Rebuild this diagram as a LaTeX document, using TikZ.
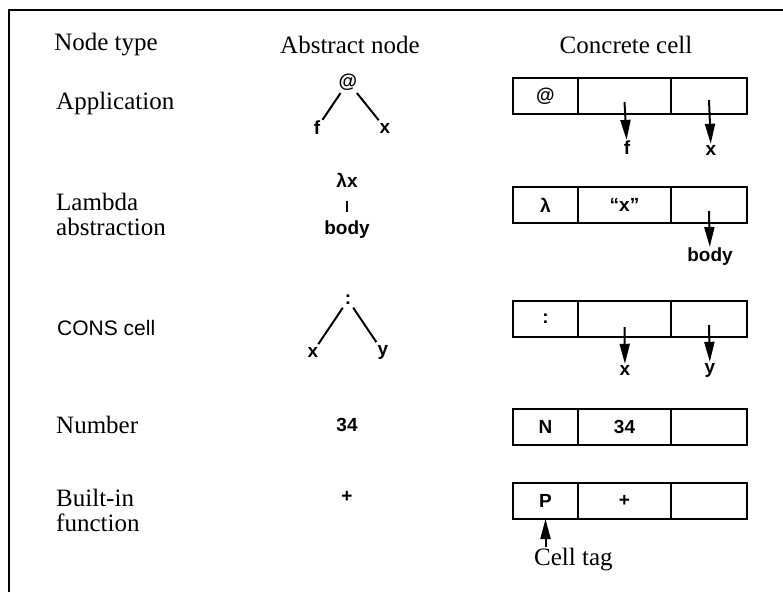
\documentclass[tikz,border=0pt]{standalone}
\usepackage{fontspec}
\setmainfont{Liberation Serif}
\newfontfamily\hsans{Liberation Sans}
\usetikzlibrary{arrows.meta}
\begin{document}
\begin{tikzpicture}[x=1pt,y=-1pt,
  lbl/.style={font=\fontsize{25}{25}\selectfont, inner sep=0pt},
  sym/.style={font=\hsans\bfseries\fontsize{19}{19}\selectfont, inner sep=1pt},
  tree/.style={line width=2pt, shorten <=2pt, shorten >=2pt},
  cellbox/.style={draw, line width=2.4pt, rectangle, outer sep=0pt, inner sep=0pt,
    minimum height=36pt, font=\hsans\bfseries\fontsize{19}{19}\selectfont, anchor=west},
  cA/.style={cellbox, minimum width=65pt},
  cB/.style={cellbox, minimum width=93pt},
  cC/.style={cellbox, minimum width=76pt},
  ptr/.style={line width=2pt, -{Triangle[length=20pt,width=10pt]}},
  frame/.style={line width=2.4pt},
]
\useasboundingbox (0,0) rectangle (783,592);
% frame
\draw[frame] (9,592) -- (9,10) -- (783,10);

% headings
\node[lbl] (h1) at (106,45) {Node type};
\node[lbl] (h2) at (350,45) {Abstract node};
\node[lbl] (h3) at (626,45) {Concrete cell};

% left labels
\node[lbl, anchor=west] (l1) at (56,103) {Application};
\node[lbl, anchor=west, align=left] (l2) at (56,214.5) {Lambda\\abstraction};
\node[anchor=west, inner sep=0pt, font=\hsans\fontsize{21}{21}\selectfont] (l3) at (57,328) {CONS cell};
\node[lbl, anchor=west] (l4) at (56,425) {Number};
\node[lbl, anchor=west, align=left] (l5) at (56,510) {Built-in\\function};

% abstract nodes
\node[sym] (tat) at (348,82) {@};
\node[sym] (tf) at (317,128) {f};
\node[sym] (tx) at (385,128) {x};
\draw[tree] (tat) -- (tf);
\draw[tree] (tat) -- (tx);

\node[sym] (tl) at (347,180) {λx};
\node[sym] (tb) at (347,230) {body};
\draw[line width=2pt, shorten <=13pt, shorten >=8pt] (tl) -- (tb);

\node[sym] (tc) at (348,300) {:};
\node[sym] (tcx) at (313,352) {x};
\node[sym] (tcy) at (383,352) {y};
\draw[tree] (tc) -- (tcx);
\draw[tree] (tc) -- (tcy);

\node[sym] (tn) at (347,425) {34};
\node[sym] (tp) at (347,497) {+};

% concrete cells
% row 1: application
\node[cA] (a1) at (513,96) {@};
\node[cB] (a2) at (a1.east) {};
\node[cC] (a3) at (a2.east) {};
\node[sym] (af) at (627,148) {f};
\node[sym] (ax) at (711,150) {x};
\draw[ptr] ([yshift=-6pt]a2.center) -- (af);
\draw[ptr] ([yshift=-4pt]a3.center) -- (ax);

% row 2: lambda
\node[cA] (b1) at (513,205) {λ};
\node[cB] (b2) at (b1.east) {“x”};
\node[cC] (b3) at (b2.east) {};
\node[sym] (bb) at (710,257) {body};
\draw[ptr] ([yshift=-6pt]b3.center) -- (bb);

% row 3: cons
\node[cA] (c1) at (513,319) {:};
\node[cB] (c2) at (c1.east) {};
\node[cC] (c3) at (c2.east) {};
\node[sym] (cx) at (625,370) {x};
\node[sym] (cy) at (710,370) {y};
\draw[ptr] ([yshift=-8pt]c2.center) -- (cx);
\draw[ptr] ([yshift=-6pt]c3.center) -- (cy);

% row 4: number
\node[cA] (d1) at (513,427) {N};
\node[cB] (d2) at (d1.east) {34};
\node[cC] (d3) at (d2.east) {};

% row 5: built-in
\node[cA] (e1) at (513,501) {P};
\node[cB] (e2) at (e1.east) {+};
\node[cC] (e3) at (e2.east) {};
\node[lbl, anchor=west] (tag) at (534,560) {Cell tag};
\coordinate (tagpt) at (e1.south |- 0,547);
\draw[ptr] (tagpt) -- (e1.south);
\end{tikzpicture}
\end{document}
